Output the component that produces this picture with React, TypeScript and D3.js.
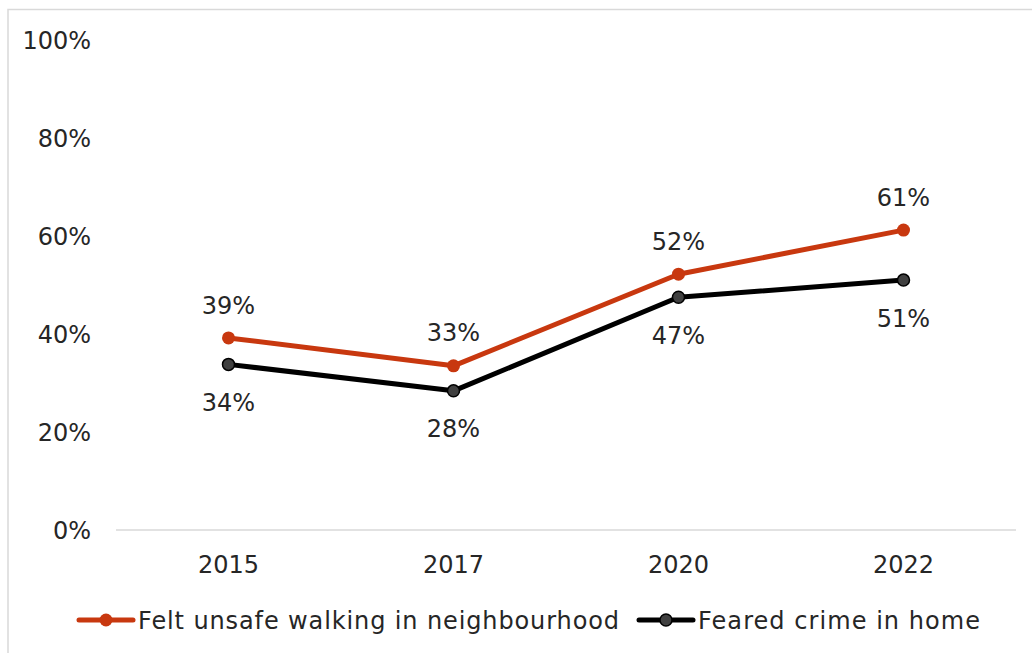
import React from "react";
import * as d3 from "d3";

const years = ["2015", "2017", "2020", "2022"];
const feltUnsafe = [39.2, 33.5, 52.2, 61.2];
const fearedCrime = [33.8, 28.4, 47.5, 51];
const feltUnsafeLabels = ["39%", "33%", "52%", "61%"];
const fearedCrimeLabels = ["34%", "28%", "47%", "51%"];
const yTicks = [0, 20, 40, 60, 80, 100];
const seriesNames = ["Felt unsafe walking in neighbourhood", "Feared crime in home"];

const W = 1032;
const H = 653;
const FONT = "'Century Gothic', 'DejaVu Sans', sans-serif";
const RED = "#C8380F";
const TXT = "#262626";
const FS = 24;

export default function App() {
  const x = d3.scaleBand<string>().domain(years).range([116, 1016]);
  const y = d3.scaleLinear().domain([0, 100]).range([530, 40]);
  const cx = (d: string) => (x(d) as number) + x.bandwidth() / 2;
  const line = d3
    .line<number>()
    .x((_, i) => cx(years[i]))
    .y((v) => y(v));

  return (
    <svg
      width={W}
      height={H}
      style={{ position: "absolute", left: 0, top: 0, fontFamily: FONT }}
    >
      <rect x={0} y={0} width={W} height={H} fill="#fff" />
      <rect x={8} y={9.5} width={W + 20} height={H + 20} fill="none" stroke="#d9d9d9" strokeWidth={1.5} />
      {/* baseline */}
      <line x1={116} x2={1016} y1={y(0)} y2={y(0)} stroke="#d9d9d9" strokeWidth={1.5} />
      {/* y tick labels */}
      {yTicks.map((t) => (
        <text key={t} x={91} y={y(t)} dy="0.36em" textAnchor="end" fontSize={FS} fill={TXT}>
          {t}%
        </text>
      ))}
      {/* x tick labels */}
      {years.map((yr) => (
        <text key={yr} x={cx(yr)} y={564} dy="0.36em" textAnchor="middle" fontSize={FS} fill={TXT}>
          {yr}
        </text>
      ))}
      {/* lines */}
      <path d={line(feltUnsafe) || ""} fill="none" stroke={RED} strokeWidth={5} strokeLinejoin="round" />
      <path d={line(fearedCrime) || ""} fill="none" stroke="#000" strokeWidth={5} strokeLinejoin="round" />
      {feltUnsafe.map((v, i) => (
        <circle key={"r" + i} cx={cx(years[i])} cy={y(v)} r={6.5} fill={RED} />
      ))}
      {fearedCrime.map((v, i) => (
        <circle key={"b" + i} cx={cx(years[i])} cy={y(v)} r={6} fill="#404040" stroke="#000" strokeWidth={1.5} />
      ))}
      {/* data labels */}
      {feltUnsafe.map((v, i) => (
        <text key={"rl" + i} x={cx(years[i])} y={y(v) - 33} dy="0.36em" textAnchor="middle" fontSize={FS} fill={TXT}>
          {feltUnsafeLabels[i]}
        </text>
      ))}
      {fearedCrime.map((v, i) => (
        <text key={"bl" + i} x={cx(years[i])} y={y(v) + 38} dy="0.36em" textAnchor="middle" fontSize={FS} fill={TXT}>
          {fearedCrimeLabels[i]}
        </text>
      ))}
      {/* legend */}
      <g>
        <line x1={79} x2={133} y1={620} y2={620} stroke={RED} strokeWidth={5} strokeLinecap="round" />
        <circle cx={106} cy={620} r={6.5} fill={RED} />
        <text x={138} y={620} dy="0.36em" fontSize={FS} fill={TXT} textLength={481} lengthAdjust="spacing">
          {seriesNames[0]}
        </text>
        <line x1={639} x2={693} y1={620} y2={620} stroke="#000" strokeWidth={5} strokeLinecap="round" />
        <circle cx={666} cy={620} r={6} fill="#404040" stroke="#000" strokeWidth={1.5} />
        <text x={698} y={620} dy="0.36em" fontSize={FS} fill={TXT} textLength={282} lengthAdjust="spacing">
          {seriesNames[1]}
        </text>
      </g>
    </svg>
  );
}
